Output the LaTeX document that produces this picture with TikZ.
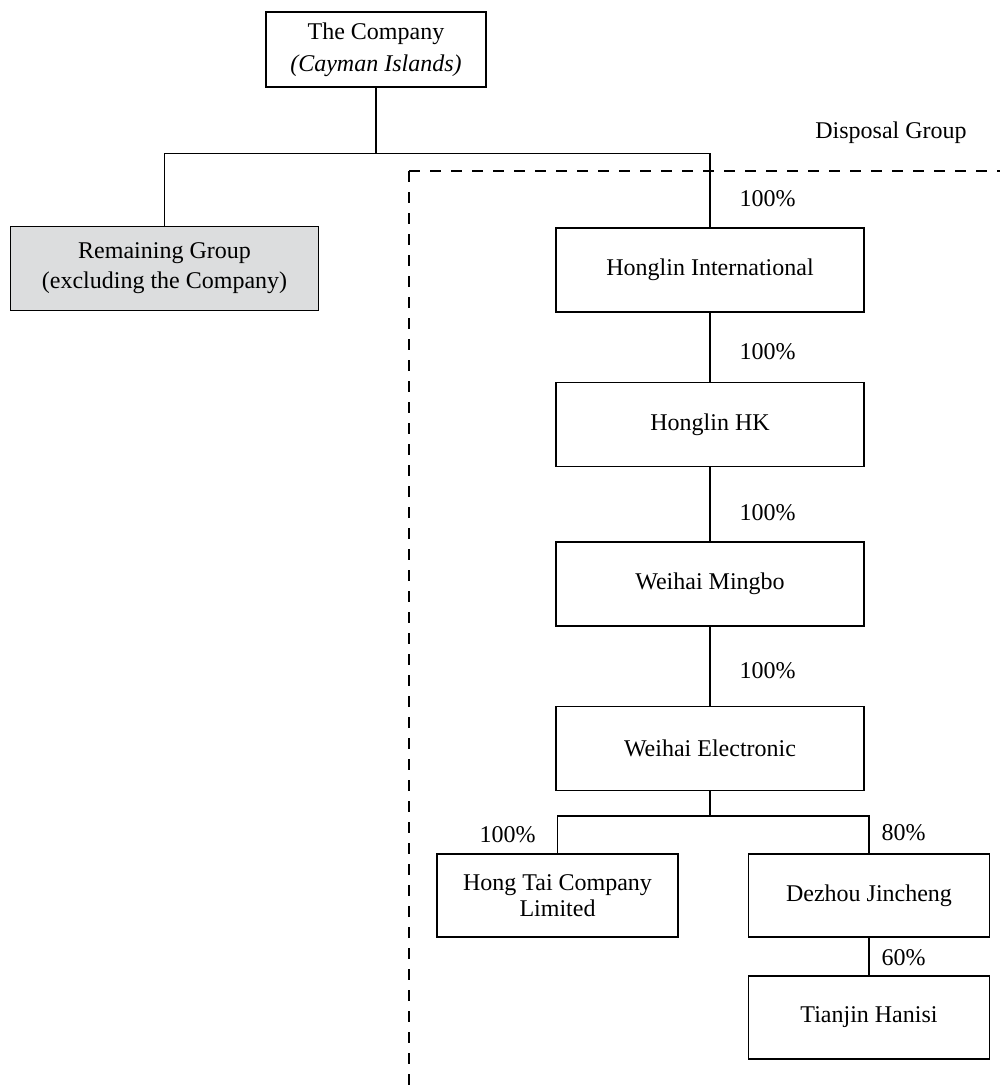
\documentclass[tikz,border=0pt]{standalone}
\usepackage{fontspec}
\setmainfont{Liberation Serif}
\definecolor{remgray}{RGB}{220,221,222}

\begin{document}
\begin{tikzpicture}[x=0.5pt, y=-0.5pt, line width=0.6pt,
  box/.style={draw, rectangle, align=center, minimum width=154pt, minimum height=42pt, inner sep=2pt, font=\fontsize{12}{15}\selectfont},
  subbox/.style={box, minimum width=120.5pt, minimum height=41.5pt, font=\fontsize{12}{13}\selectfont},
  pct/.style={inner sep=0pt, anchor=west, font=\fontsize{12}{14}\selectfont}]
  \useasboundingbox (0,0) rectangle (1000,1089);
  % holding company and remaining group
  \node[box, minimum width=110pt, minimum height=37.5pt, font=\fontsize{12}{16}\selectfont] (company) at (376,49.5) {The Company\\\textit{(Cayman Islands)}};
  \node[box, fill=remgray] (remain) at (164.5,268.5) {Remaining Group\\(excluding the Company)};
  % disposal chain
  \foreach \n/\y/\t in {hint/270/Honglin International, hhk/424.5/Honglin HK, mingbo/584/Weihai Mingbo, elec/748.5/Weihai Electronic}
    \node[box] (\n) at (710,\y) {\t};
  \node[subbox] (hongtai) at (557.5,895.5) {Hong Tai Company\\Limited};
  \node[subbox] (dezhou) at (869,895.5) {Dezhou Jincheng};
  \node[subbox] (tianjin) at (869,1017.5) {Tianjin Hanisi};
  % shareholdings
  \foreach \y [count=\i] in {199,352,513,671}
    \node[pct] (pct\i) at (739,\y) {100\%};
  \node[pct] (pcthongtai) at (479,835) {100\%};
  \node[pct] (pctdezhou) at (881,833) {80\%};
  \node[pct] (pcttianjin) at (881,958) {60\%};
  \node[pct, anchor=center] (dlabel) at (891,133) {Disposal Group};
  % connectors
  \coordinate (split) at (376,153.5);
  \coordinate (fork) at (710,816);
  \draw (company) -- (split);
  \draw (remain.north) |- (split) -| (hint.north);
  \foreach \a/\b in {hint/hhk, hhk/mingbo, mingbo/elec, dezhou/tianjin} \draw (\a) -- (\b);
  \draw (elec) -- (fork);
  \draw (hongtai.north) |- (fork) -| (dezhou.north);
  % disposal group boundary
  \coordinate (dcorner) at (409,171);
  \draw[dash pattern=on 5.5pt off 5pt] (dcorner) -- (1000,171);
  \draw[dash pattern=on 5.5pt off 5pt] (dcorner) -- (409,1089);
\end{tikzpicture}
\end{document}
